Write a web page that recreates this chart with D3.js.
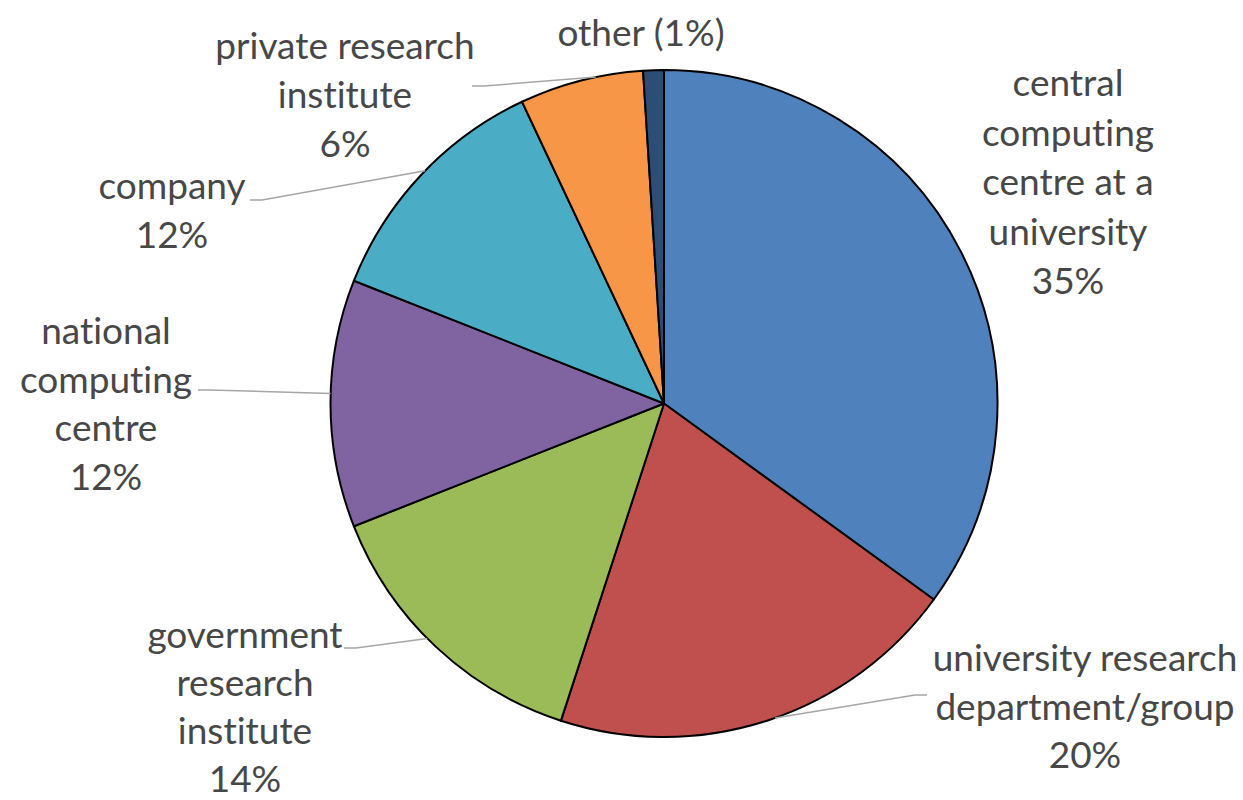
<!DOCTYPE html>
<html>
<head>
<meta charset="utf-8">
<script src="https://cdn.jsdelivr.net/npm/d3@7/dist/d3.min.js"></script>
<style>
  html, body { margin: 0; padding: 0; background: #ffffff; }
  svg { display: block; }
  .label {
    font-family: Lato, "Open Sans", sans-serif;
    fill: #474747;
    font-variant-ligatures: none;
    font-feature-settings: "liga" 0;
  }
</style>
</head>
<body>
<svg id="chart" width="1243" height="800"></svg>
<script>
// Where users' HPC resources are hosted (share of respondents, %)
const categories = [
  "central computing centre at a university",
  "university research department/group",
  "government research institute",
  "national computing centre",
  "company",
  "private research institute",
  "other"
];
const shares = [35, 20, 14, 12, 12, 6, 1];
const sliceColors = ["#4f81bd", "#c0504d", "#9bbb59", "#8064a2", "#4bacc6", "#f79646", "#2c4d75"];

// Wrapped label text for each category (the percentage is added below)
const labelLines = [
  ["central", "computing", "centre at a", "university"],
  ["university research", "department/group"],
  ["government", "research", "institute"],
  ["national", "computing", "centre"],
  ["company"],
  ["private research", "institute"],
  ["other"]
];

// Label placement: centre x, first baseline, line step, optional leader
// (fraction of the slice angle where it meets the rim, label-side end point)
const labelLayout = [
  { x: 1068, y: 96,  step: 49.5, leader: null },
  { x: 1085, y: 671, step: 48.5, leader: { t: 0.48, end: [927, 695] } },
  { x: 245,  y: 648, step: 48,   leader: { t: 0.54, end: [344, 648] } },
  { x: 106,  y: 344, step: 48.5, leader: { t: 0.54, end: [198, 390] } },
  { x: 172,  y: 199, step: 49,   leader: { t: 0.525, end: [250, 200] } },
  { x: 345,  y: 59,  step: 49,   leader: { t: 0.62, end: [472, 86] } },
  { x: 641,  y: 46,  step: 49,   leader: null }
];

const width = 1243, height = 800;
const cx = 664, cy = 403.5, radius = 333.5;
const fontSize = 37;

const svg = d3.select("#chart");
const g = svg.append("g").attr("transform", `translate(${cx},${cy})`);

const pie = d3.pie().sort(null).value(d => d);
const arcs = pie(shares);
const arc = d3.arc().innerRadius(0).outerRadius(radius);

g.selectAll("path.slice")
  .data(arcs)
  .join("path")
  .attr("class", "slice")
  .attr("d", arc)
  .attr("fill", (d, i) => sliceColors[i])
  .attr("stroke", "#000")
  .attr("stroke-width", 2)
  .attr("stroke-linejoin", "round");

// Leader lines from the pie rim to the labels
arcs.forEach((a, i) => {
  const lay = labelLayout[i];
  if (!lay.leader) return;
  const ang = a.startAngle + lay.leader.t * (a.endAngle - a.startAngle);
  const px = cx + radius * Math.sin(ang);
  const py = cy - radius * Math.cos(ang);
  const [ex, ey] = lay.leader.end;
  const dir = ex > px ? -1 : 1;   // short horizontal stub next to the label
  const pts = [[px, py], [ex + dir * 12, ey], [ex, ey]];
  svg.append("path")
    .attr("d", d3.line()(pts))
    .attr("fill", "none")
    .attr("stroke", "#a6a6a6")
    .attr("stroke-width", 1.5);
});

// Data labels
categories.forEach((c, i) => {
  const lay = labelLayout[i];
  const pct = shares[i] + "%";
  const lines = labelLines[i].length === 1 && c === "other"
    ? [c + " (" + pct + ")"]
    : labelLines[i].concat([pct]);
  const t = svg.append("text")
    .attr("class", "label")
    .attr("text-anchor", "middle")
    .attr("font-size", fontSize)
    .attr("x", lay.x)
    .attr("y", lay.y);
  lines.forEach((ln, k) => {
    t.append("tspan")
      .attr("x", lay.x)
      .attr("y", lay.y + k * lay.step)
      .text(ln);
  });
});
</script>
</body>
</html>
